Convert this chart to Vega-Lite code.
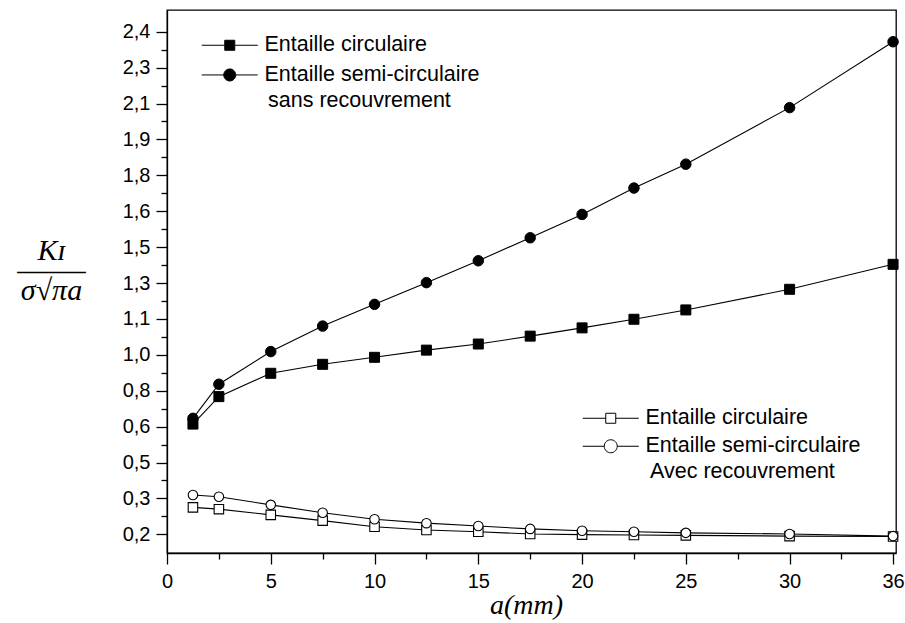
{
  "$schema": "https://vega.github.io/schema/vega-lite/v6.json",
  "width": 729,
  "height": 543,
  "autosize": {"type": "none"},
  "padding": {"left": 167, "top": 10, "right": 9, "bottom": 70},
  "background": "white",
  "config": {
    "view": {"stroke": "black", "strokeWidth": 1.3},
    "axis": {
      "grid": false,
      "domainColor": "black",
      "domainWidth": 1.3,
      "tickColor": "black",
      "tickWidth": 1.3,
      "labelColor": "black",
      "labelFont": "Liberation Sans",
      "labelFontSize": 20,
      "labelOverlap": false,
      "labelFlush": false,
      "titleColor": "black",
      "titleFont": "Liberation Serif",
      "titleFontStyle": "italic",
      "titleFontWeight": "normal"
    },
    "legend": {
      "labelFont": "Liberation Sans",
      "labelFontSize": 21.5,
      "labelColor": "black",
      "labelLimit": 0,
      "titleFont": "Liberation Sans",
      "titleFontSize": 21.5,
      "titleFontWeight": "normal",
      "titleColor": "black",
      "titleLimit": 0,
      "symbolOpacity": 1
    }
  },
  "datasets": {
    "mesures": [
      {"a": 1.25, "k": 0.614, "entaille": "Entaille circulaire", "cas": "sans recouvrement"},
      {"a": 2.5, "k": 0.767, "entaille": "Entaille circulaire", "cas": "sans recouvrement"},
      {"a": 5, "k": 0.897, "entaille": "Entaille circulaire", "cas": "sans recouvrement"},
      {"a": 7.5, "k": 0.947, "entaille": "Entaille circulaire", "cas": "sans recouvrement"},
      {"a": 10, "k": 0.986, "entaille": "Entaille circulaire", "cas": "sans recouvrement"},
      {"a": 12.5, "k": 1.013, "entaille": "Entaille circulaire", "cas": "sans recouvrement"},
      {"a": 15, "k": 1.030, "entaille": "Entaille circulaire", "cas": "sans recouvrement"},
      {"a": 17.5, "k": 1.052, "entaille": "Entaille circulaire", "cas": "sans recouvrement"},
      {"a": 20, "k": 1.075, "entaille": "Entaille circulaire", "cas": "sans recouvrement"},
      {"a": 22.5, "k": 1.099, "entaille": "Entaille circulaire", "cas": "sans recouvrement"},
      {"a": 25, "k": 1.150, "entaille": "Entaille circulaire", "cas": "sans recouvrement"},
      {"a": 30, "k": 1.265, "entaille": "Entaille circulaire", "cas": "sans recouvrement"},
      {"a": 36, "k": 1.404, "entaille": "Entaille circulaire", "cas": "sans recouvrement"},

      {"a": 1.25, "k": 0.646, "entaille": "Entaille semi-circulaire", "cas": "sans recouvrement"},
      {"a": 2.5, "k": 0.836, "entaille": "Entaille semi-circulaire", "cas": "sans recouvrement"},
      {"a": 5, "k": 1.009, "entaille": "Entaille semi-circulaire", "cas": "sans recouvrement"},
      {"a": 7.5, "k": 1.080, "entaille": "Entaille semi-circulaire", "cas": "sans recouvrement"},
      {"a": 10, "k": 1.181, "entaille": "Entaille semi-circulaire", "cas": "sans recouvrement"},
      {"a": 12.5, "k": 1.302, "entaille": "Entaille semi-circulaire", "cas": "sans recouvrement"},
      {"a": 15, "k": 1.424, "entaille": "Entaille semi-circulaire", "cas": "sans recouvrement"},
      {"a": 17.5, "k": 1.526, "entaille": "Entaille semi-circulaire", "cas": "sans recouvrement"},
      {"a": 20, "k": 1.591, "entaille": "Entaille semi-circulaire", "cas": "sans recouvrement"},
      {"a": 22.5, "k": 1.729, "entaille": "Entaille semi-circulaire", "cas": "sans recouvrement"},
      {"a": 25, "k": 1.831, "entaille": "Entaille semi-circulaire", "cas": "sans recouvrement"},
      {"a": 30, "k": 2.077, "entaille": "Entaille semi-circulaire", "cas": "sans recouvrement"},
      {"a": 36, "k": 2.372, "entaille": "Entaille semi-circulaire", "cas": "sans recouvrement"},

      {"a": 1.25, "k": 0.275, "entaille": "Entaille circulaire", "cas": "avec recouvrement"},
      {"a": 2.5, "k": 0.270, "entaille": "Entaille circulaire", "cas": "avec recouvrement"},
      {"a": 5, "k": 0.254, "entaille": "Entaille circulaire", "cas": "avec recouvrement"},
      {"a": 7.5, "k": 0.238, "entaille": "Entaille circulaire", "cas": "avec recouvrement"},
      {"a": 10, "k": 0.221, "entaille": "Entaille circulaire", "cas": "avec recouvrement"},
      {"a": 12.5, "k": 0.212, "entaille": "Entaille circulaire", "cas": "avec recouvrement"},
      {"a": 15, "k": 0.207, "entaille": "Entaille circulaire", "cas": "avec recouvrement"},
      {"a": 17.5, "k": 0.201, "entaille": "Entaille circulaire", "cas": "avec recouvrement"},
      {"a": 20, "k": 0.199, "entaille": "Entaille circulaire", "cas": "avec recouvrement"},
      {"a": 22.5, "k": 0.198, "entaille": "Entaille circulaire", "cas": "avec recouvrement"},
      {"a": 25, "k": 0.197, "entaille": "Entaille circulaire", "cas": "avec recouvrement"},
      {"a": 30, "k": 0.195, "entaille": "Entaille circulaire", "cas": "avec recouvrement"},
      {"a": 36, "k": 0.194, "entaille": "Entaille circulaire", "cas": "avec recouvrement"},

      {"a": 1.25, "k": 0.319, "entaille": "Entaille semi-circulaire", "cas": "avec recouvrement"},
      {"a": 2.5, "k": 0.309, "entaille": "Entaille semi-circulaire", "cas": "avec recouvrement"},
      {"a": 5, "k": 0.282, "entaille": "Entaille semi-circulaire", "cas": "avec recouvrement"},
      {"a": 7.5, "k": 0.260, "entaille": "Entaille semi-circulaire", "cas": "avec recouvrement"},
      {"a": 10, "k": 0.242, "entaille": "Entaille semi-circulaire", "cas": "avec recouvrement"},
      {"a": 12.5, "k": 0.231, "entaille": "Entaille semi-circulaire", "cas": "avec recouvrement"},
      {"a": 15, "k": 0.223, "entaille": "Entaille semi-circulaire", "cas": "avec recouvrement"},
      {"a": 17.5, "k": 0.215, "entaille": "Entaille semi-circulaire", "cas": "avec recouvrement"},
      {"a": 20, "k": 0.210, "entaille": "Entaille semi-circulaire", "cas": "avec recouvrement"},
      {"a": 22.5, "k": 0.207, "entaille": "Entaille semi-circulaire", "cas": "avec recouvrement"},
      {"a": 25, "k": 0.204, "entaille": "Entaille semi-circulaire", "cas": "avec recouvrement"},
      {"a": 30, "k": 0.201, "entaille": "Entaille semi-circulaire", "cas": "avec recouvrement"},
      {"a": 36, "k": 0.195, "entaille": "Entaille semi-circulaire", "cas": "avec recouvrement"}
    ]
  },
  "data": {"name": "mesures"},
  "encoding": {
    "x": {
      "field": "a",
      "type": "quantitative",
      "scale": {"type": "linear", "domain": [0, 30, 36.17], "range": [0, 622.6, 729], "nice": false, "zero": false},
      "axis": {
        "values": [0, 2.5, 5, 7.5, 10, 12.5, 15, 17.5, 20, 22.5, 25, 27.5, 30, 33, 36],
        "labelExpr": "indexof([0, 5, 10, 15, 20, 25, 30, 36], datum.value) >= 0 ? datum.label : ''",
        "tickSize": {"condition": {"test": "indexof([0, 5, 10, 15, 20, 25, 30, 36], datum.value) < 0", "value": 6}, "value": 11},
        "labelPadding": 7,
        "title": "a(mm)",
        "titleFontSize": 28,
        "titleX": 359,
        "titleY": 52,
        "titleAlign": "center",
        "titleBaseline": "middle"
      }
    },
    "y": {
      "field": "k",
      "type": "quantitative",
      "scale": {
        "type": "linear",
        "domain": [0.1479, 0.2, 0.3, 0.5, 0.6, 0.8, 1.0, 1.1, 1.3, 1.5, 1.6, 1.8, 1.9, 2.1, 2.3, 2.4, 2.4604],
        "range": [543, 524.3, 488.4, 452.5, 416.6, 380.7, 344.8, 308.9, 273.0, 237.1, 201.2, 165.3, 129.4, 93.5, 57.6, 21.7, 0],
        "nice": false,
        "zero": false
      },
      "axis": {
        "values": [0.2, 0.25, 0.3, 0.4, 0.5, 0.55, 0.6, 0.7, 0.8, 0.9, 1.0, 1.05, 1.1, 1.2, 1.3, 1.4, 1.5, 1.55, 1.6, 1.7, 1.8, 1.85, 1.9, 2.0, 2.1, 2.2, 2.3, 2.35, 2.4],
        "labelExpr": "indexof([0.2, 0.3, 0.5, 0.6, 0.8, 1, 1.1, 1.3, 1.5, 1.6, 1.8, 1.9, 2.1, 2.3, 2.4], datum.value) >= 0 ? replace(format(datum.value, '.1f'), '.', ',') : ''",
        "tickSize": {"condition": {"test": "indexof([0.2, 0.3, 0.5, 0.6, 0.8, 1, 1.1, 1.3, 1.5, 1.6, 1.8, 1.9, 2.1, 2.3, 2.4], datum.value) < 0", "value": 6}, "value": 11},
        "labelPadding": 6,
        "title": ["Kɪ", "——–", "σ√πa"],
        "titleFontSize": 30,
        "titleLineHeight": 20,
        "titleAngle": 0,
        "titleX": -116,
        "titleY": 240,
        "titleAlign": "center",
        "titleBaseline": "middle"
      }
    }
  },
  "layer": [
    {
      "mark": {"type": "line", "color": "black", "strokeWidth": 1.1},
      "encoding": {
        "detail": [
          {"field": "entaille", "type": "nominal"},
          {"field": "cas", "type": "nominal"}
        ]
      }
    },
    {
      "transform": [{"filter": "datum.cas === 'avec recouvrement' && datum.entaille === 'Entaille circulaire'"}],
      "mark": {"type": "point", "shape": "square", "filled": true, "fill": "white", "stroke": "black", "strokeWidth": 1.1, "size": 90, "opacity": 1}
    },
    {
      "transform": [{"filter": "datum.cas === 'avec recouvrement' && datum.entaille === 'Entaille semi-circulaire'"}],
      "mark": {"type": "point", "shape": "circle", "filled": true, "fill": "white", "stroke": "black", "strokeWidth": 1.1, "size": 90, "opacity": 1}
    },
    {
      "transform": [{"filter": "datum.cas === 'sans recouvrement' && datum.entaille === 'Entaille circulaire'"}],
      "mark": {"type": "point", "shape": "square", "filled": true, "fill": "black", "stroke": "black", "strokeWidth": 1, "size": 100, "opacity": 1}
    },
    {
      "transform": [{"filter": "datum.cas === 'sans recouvrement' && datum.entaille === 'Entaille semi-circulaire'"}],
      "mark": {"type": "point", "shape": "circle", "filled": true, "fill": "black", "stroke": "black", "strokeWidth": 1, "size": 110, "opacity": 1}
    },
    {
      "transform": [{"filter": "false"}],
      "mark": {"type": "point", "filled": true, "fill": "black", "stroke": "black", "strokeWidth": 1, "size": 100, "opacity": 1},
      "encoding": {
        "shape": {
          "field": "entaille",
          "type": "nominal",
          "scale": {
            "domain": ["Entaille circulaire", "Entaille semi-circulaire"],
            "range": [
              "M-5.6,0H-1M1,0H5.6M-1,-1H1V1H-1Z",
              "M-5.6,0H-1.2M1.2,0H5.6M-1.2,0A1.2,1.2,0,1,0,1.2,0A1.2,1.2,0,1,0,-1.2,0Z"
            ]
          },
          "legend": {
            "orient": "none",
            "legendX": 101,
            "legendY": 24.5,
            "title": "sans recouvrement",
            "titleOrient": "bottom",
            "titleAnchor": "start",
            "titleBaseline": "top",
            "titlePadding": 4,
            "symbolSize": 100,
            "symbolStrokeWidth": 1,
            "symbolOffset": -49,
            "labelOffset": 24,
            "rowPadding": 6.7
          }
        }
      }
    },
    {
      "transform": [{"filter": "false"}],
      "mark": {"type": "point", "filled": true, "fill": "white", "stroke": "black", "strokeWidth": 1, "size": 100, "opacity": 1},
      "encoding": {
        "shape": {
          "field": "entaille",
          "type": "nominal",
          "scale": {
            "domain": ["Entaille circulaire", "Entaille semi-circulaire"],
            "range": [
              "M-5.6,0H-1M1,0H5.6M-1,-1H1V1H-1Z",
              "M-5.6,0H-1.3M1.3,0H5.6M-1.3,0A1.3,1.3,0,1,0,1.3,0A1.3,1.3,0,1,0,-1.3,0Z"
            ]
          },
          "legend": {
            "orient": "none",
            "legendX": 483,
            "legendY": 397.5,
            "title": "Avec recouvrement",
            "titleOrient": "bottom",
            "titleAnchor": "start",
            "titleBaseline": "top",
            "titlePadding": 4,
            "symbolSize": 100,
            "symbolStrokeWidth": 1,
            "symbolOffset": -50,
            "labelOffset": 24,
            "rowPadding": 5
          }
        }
      }
    }
  ],
  "resolve": {"scale": {"shape": "independent"}, "legend": {"shape": "independent"}}
}
